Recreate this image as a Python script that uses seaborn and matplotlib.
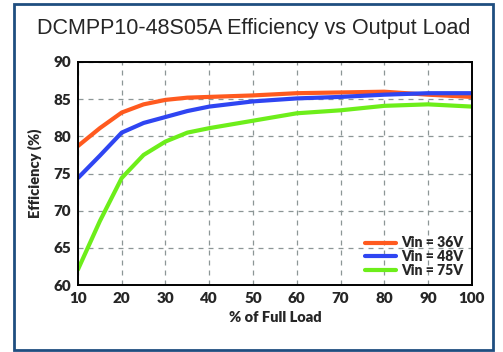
import pandas as pd
import matplotlib
matplotlib.use("Agg")
import matplotlib.pyplot as plt
import seaborn as sns
from matplotlib.patches import Rectangle

# valeurs
load = [10, 15, 20, 25, 30, 35, 40, 50, 60, 70, 80, 90, 100]
eff_36 = [78.7, 81.1, 83.2, 84.3, 84.9, 85.2, 85.3, 85.5, 85.8, 85.9, 86.0, 85.6, 85.3]
eff_48 = [74.4, 77.4, 80.5, 81.8, 82.6, 83.4, 84.0, 84.7, 85.1, 85.3, 85.6, 85.8, 85.8]
eff_75 = [62.1, 68.6, 74.4, 77.5, 79.3, 80.5, 81.1, 82.1, 83.1, 83.5, 84.1, 84.3, 84.0]
labels = ['Vin = 36V', 'Vin = 48V', 'Vin = 75V']
colors = ['#FF5A1F', '#2F45F2', '#6DEE1A']

df = pd.concat([
    pd.DataFrame({'Load': load, 'Eff': e, 'Vin': lab})
    for e, lab in zip([eff_36, eff_48, eff_75], labels)
])

sns.set_style('white')
plt.rcParams['font.family'] = ['Lato', 'DejaVu Sans']

fig = plt.figure(figsize=(5.03, 3.52), dpi=100)
ax = fig.add_axes([0.155, 0.190, 0.783, 0.634])

sns.lineplot(data=df, x='Load', y='Eff', hue='Vin', palette=colors,
             linewidth=3, ax=ax)

ax.set_xlim(10, 100)
ax.set_ylim(60, 90)
ax.set_xticks(range(10, 101, 10))
ax.set_yticks(range(60, 91, 5))
ax.grid(True, linestyle=(0, (4, 4)), color='#8c9696', linewidth=0.9)
for s in ax.spines.values():
    s.set_color('black')
    s.set_linewidth(1.4)
ax.tick_params(axis='both', labelsize=11, length=3, direction='in',
               color='#888888', pad=5)
for t in ax.get_xticklabels() + ax.get_yticklabels():
    t.set_fontweight('heavy')

ax.set_xlabel('% of Full Load', fontsize=10.5, fontweight='heavy', labelpad=4)
ax.set_ylabel('Efficiency (%)', fontsize=10.5, fontweight='heavy', labelpad=8)

leg = ax.legend(loc='lower right', frameon=False, fontsize=10,
                handlelength=2.2, handletextpad=0.4, labelspacing=0.05,
                borderaxespad=0.2)
for t in leg.get_texts():
    t.set_fontweight('heavy')

fig.text(0.505, 0.92, 'DCMPP10-48S05A Efficiency vs Output Load',
         ha='center', va='center', fontsize=15.5, family='Liberation Sans')

fig.patches.append(Rectangle((0.028, 0.006), 0.952, 0.983, transform=fig.transFigure,
                             fill=False, edgecolor='#1F4E80', linewidth=2))

fig.savefig('out.png', dpi=100)
